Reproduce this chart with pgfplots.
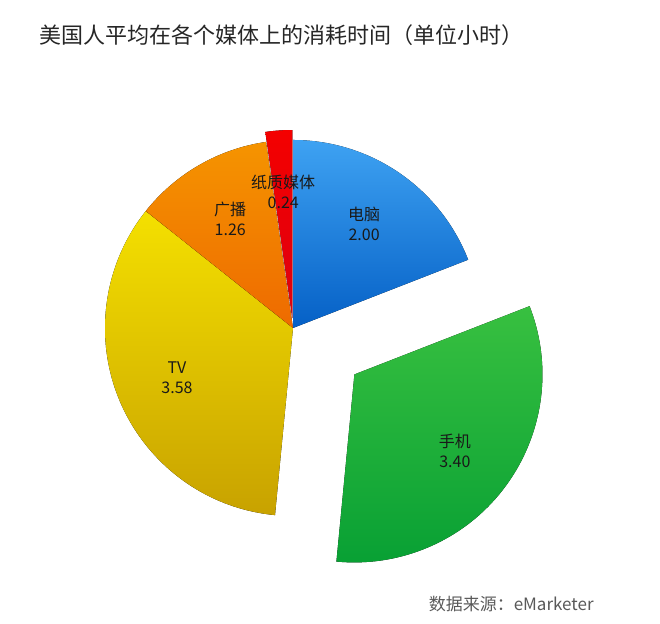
\documentclass[border=0pt]{standalone}
\usepackage{fontspec}
\setmainfont{Noto Sans CJK SC}
\usepackage{pgfplots}
\pgfplotsset{compat=1.18}
\usepackage{pgfplotstable}

\definecolor{blueT}{HTML}{3EA2F2}
\definecolor{blueB}{HTML}{0560C6}
\definecolor{greenT}{HTML}{38C040}
\definecolor{greenB}{HTML}{08A034}
\definecolor{yellowT}{HTML}{F4E000}
\definecolor{yellowB}{HTML}{C8A200}
\definecolor{orangeT}{HTML}{F59400}
\definecolor{orangeB}{HTML}{EE6A00}
\definecolor{redT}{HTML}{F40000}
\definecolor{redB}{HTML}{DE0010}

\newcommand\lblfont{\fontsize{8pt}{10pt}\selectfont}

% value in hours, explode distance in px
\pgfplotstableread[col sep=comma]{
name,value,explode,ctop,cbot
电脑,2.00,0,blueT,blueB
手机,3.40,77,greenT,greenB
TV,3.58,0,yellowT,yellowB
广播,1.26,0,orangeT,orangeB
纸质媒体,0.24,10,redT,redB
}\piedata

\begin{document}
\begin{tikzpicture}
\begin{axis}[
    scale only axis,
    width=330pt, height=312pt,
    xmin=0, xmax=660, ymin=0, ymax=624,
    hide axis,
    clip=false
]
\path (rel axis cs:0,0) rectangle (rel axis cs:1,1);

\pgfplotstablegetrowsof{\piedata}
\pgfmathtruncatemacro\nlast{\pgfplotsretval-1}
\def\total{0}
\pgfplotsforeachungrouped \i in {0,...,\nlast}{%
  \pgfplotstablegetelem{\i}{value}\of\piedata
  \pgfmathsetmacro\total{\total+\pgfplotsretval}%
}
\def\cum{0}
\pgfplotsforeachungrouped \i in {0,...,\nlast}{%
  \pgfplotstablegetelem{\i}{value}\of\piedata \let\val\pgfplotsretval
  \pgfplotstablegetelem{\i}{explode}\of\piedata \let\ex\pgfplotsretval
  \pgfplotstablegetelem{\i}{name}\of\piedata \let\nm\pgfplotsretval
  \pgfplotstablegetelem{\i}{ctop}\of\piedata \let\ct\pgfplotsretval
  \pgfplotstablegetelem{\i}{cbot}\of\piedata \let\cb\pgfplotsretval
  \pgfmathsetmacro\aS{90-360*\cum/\total}%
  \pgfmathsetmacro\aE{90-360*(\cum+\val)/\total}%
  \pgfmathsetmacro\aM{(\aS+\aE)/2}%
  \pgfmathsetmacro\cx{293+\ex*cos(\aM)}%
  \pgfmathsetmacro\cy{296+\ex*sin(\aM)}%
  \pgfmathsetmacro\lx{\cx+126*cos(\aM)}%
  \pgfmathsetmacro\ly{\cy+126*sin(\aM)}%
  \edef\doslice{%
    \noexpand\fill[top color=\ct, bottom color=\cb]
      (axis cs:\cx,\cy) -- ++(\aS:94pt)
      arc[start angle=\aS, end angle=\aE, radius=94pt] -- cycle;
    \noexpand\node[align=center, text=black!90, inner sep=0pt,
      font=\noexpand\lblfont] at (axis cs:\lx,\ly) {\nm\noexpand\\\val};
  }\doslice
  \pgfmathsetmacro\cum{\cum+\val}%
}

\node[anchor=west, inner sep=0pt, text=black!85,
  font=\fontsize{11pt}{13pt}\selectfont]
  at (axis cs:39,589) {美国人平均在各个媒体上的消耗时间（单位小时）};
\node[anchor=east, inner sep=0pt, text=black!65,
  font=\fontsize{8.5pt}{10pt}\selectfont]
  at (axis cs:594,20) {数据来源：eMarketer};
\end{axis}
\end{tikzpicture}
\end{document}
